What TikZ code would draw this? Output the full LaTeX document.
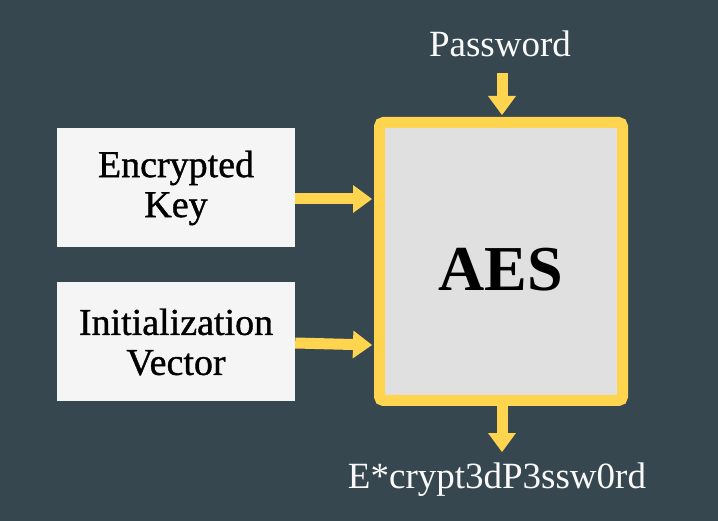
\documentclass[tikz,border=0pt]{standalone}
\usepackage{fontspec}
\setmainfont{Liberation Serif}
\newfontfamily\boxfont[FakeBold=1]{Liberation Serif}
\usetikzlibrary{arrows.meta,calc}
\definecolor{bg}{HTML}{37474F}
\definecolor{boxfill}{HTML}{F5F5F5}
\definecolor{aesfill}{HTML}{E0E0E0}
\definecolor{amber}{HTML}{FFD54F}
\definecolor{lighttext}{HTML}{FAFAFA}
\tikzset{
  inbox/.style={rectangle, fill=boxfill, minimum width=238pt, minimum height=119pt,
    inner sep=0pt, align=center, font=\boxfont\fontsize{38}{40}\selectfont, text=black},
  aesbox/.style={rectangle, draw=amber, line width=11pt, rounded corners=4pt, fill=aesfill,
    minimum width=243pt, minimum height=278pt, inner sep=0pt,
    font=\fontsize{64}{66}\selectfont\bfseries, text height=58pt, text=black},
  label/.style={inner sep=0pt, font=\fontsize{37}{40}\selectfont, text=lighttext},
  arr/.style={draw=amber, line width=11pt, -{Triangle[width=28pt,length=19pt,line width=0pt]}}
}
\begin{document}
\begin{tikzpicture}[x=1pt,y=-1pt]
\fill[bg] (0,0) rectangle (718,521);
\useasboundingbox (0,0) rectangle (718,521);
\node[inbox] (ek) at (176,188) {Encrypted\\Key};
\node[inbox] (iv) at (176,342) {Initialization\\Vector};
\node[aesbox] (aes) at (501,261.5) {AES};
\node[label, anchor=base] (pw) at (500,57) {Password};
\node[label, anchor=base] (out) at (497,488) {E*crypt3dP3ssw0rd};
\coordinate (pwstart) at (502,73);
\coordinate (outtip) at (502,452);
\draw[arr] (pwstart) -- ([yshift=2pt]pwstart |- aes.north);
\draw[arr] (outtip |- aes.south) -- (outtip);
\draw[arr] ([yshift=-11pt]ek.east) -- ([yshift=-11pt,xshift=-2pt]ek.east -| aes.west);
\draw[arr] ([yshift=-1pt]iv.east) -- ([yshift=-3pt,xshift=-2pt]iv.east -| aes.west);
\end{tikzpicture}
\end{document}
